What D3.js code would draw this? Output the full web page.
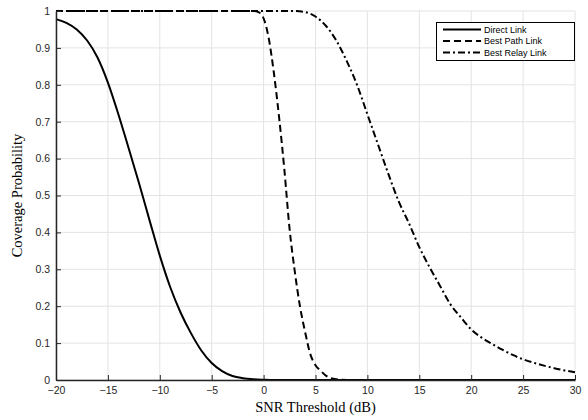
<!DOCTYPE html>
<html>
<head>
<meta charset="utf-8">
<script src="https://cdn.jsdelivr.net/npm/d3@7"></script>
<style>
  html, body { margin: 0; padding: 0; background: #fff; }
  svg { display: block; }
</style>
</head>
<body>
<svg id="chart" width="588" height="420"></svg>
<script>
// ---- data ----
const xTicks = [-20, -15, -10, -5, 0, 5, 10, 15, 20, 25, 30];
const yTicks = [0, 0.1, 0.2, 0.3, 0.4, 0.5, 0.6, 0.7, 0.8, 0.9, 1];
const yTickLabels = ["0", "0.1", "0.2", "0.3", "0.4", "0.5", "0.6", "0.7", "0.8", "0.9", "1"];

const directX = [-20, -19, -18, -17, -16, -15, -14, -13, -12, -11, -10, -9, -8, -7, -6, -5, -4, -3, -2, -1, 0, 1, 5, 30];
const directY = [0.978, 0.968, 0.950, 0.920, 0.874, 0.806, 0.721, 0.628, 0.533, 0.434, 0.337, 0.252, 0.183, 0.127, 0.080, 0.046, 0.024, 0.011, 0.005, 0.002, 0.0007, 0, 0, 0];

const pathX = [-20, -1, -0.5, 0, 0.5, 1, 1.5, 2, 2.5, 3, 3.5, 4, 4.5, 5, 5.5, 6, 6.5, 7, 8, 30];
const pathY = [1, 1, 0.997, 0.98, 0.925, 0.83, 0.71, 0.57, 0.41, 0.295, 0.2, 0.13, 0.07, 0.04, 0.025, 0.012, 0.005, 0.002, 0, 0];

const relayX = [-20, 3, 4, 5, 6, 7, 8, 9, 10, 11, 12, 13, 14, 15, 16, 17, 18, 19, 20, 21, 22, 23, 24, 25, 26, 27, 28, 29, 30];
const relayY = [1, 1, 0.997, 0.985, 0.96, 0.92, 0.865, 0.80, 0.72, 0.64, 0.56, 0.485, 0.425, 0.36, 0.305, 0.255, 0.205, 0.17, 0.137, 0.115, 0.098, 0.082, 0.068, 0.056, 0.047, 0.039, 0.032, 0.026, 0.021];

const seriesNames = ["Direct Link", "Best Path Link", "Best Relay Link"];
const seriesDash = ["none", "7,4", "7,3,2,3"];

// ---- layout ----
const svg = d3.select("#chart");
const L = 56, R = 575, T = 11, B = 380;
const x = d3.scaleLinear().domain([-20, 30]).range([L, R]);
const y = d3.scaleLinear().domain([0, 1]).range([B, T]);
const axisColor = "#262626";
const tickFont = "Liberation Sans, Arial, Helvetica, sans-serif";

// grid
const grid = svg.append("g");
grid.selectAll("line.vx").data(xTicks).enter().append("line")
  .attr("x1", d => x(d)).attr("x2", d => x(d))
  .attr("y1", T).attr("y2", B)
  .attr("stroke", "#e3e3e3").attr("stroke-width", 1);
grid.selectAll("line.hy").data(yTicks).enter().append("line")
  .attr("x1", L).attr("x2", R)
  .attr("y1", d => y(d)).attr("y2", d => y(d))
  .attr("stroke", "#e3e3e3").attr("stroke-width", 1);

// curves
const series = [
  directX.map((v, i) => [v, directY[i]]),
  pathX.map((v, i) => [v, pathY[i]]),
  relayX.map((v, i) => [v, relayY[i]])
];
const line = d3.line().x(d => x(d[0])).y(d => y(d[1])).curve(d3.curveMonotoneX);
const drawOrder = [2, 1, 0];
drawOrder.forEach(i => {
  svg.append("path")
    .datum(series[i])
    .attr("d", line)
    .attr("fill", "none")
    .attr("stroke", "#000")
    .attr("stroke-width", 2)
    .attr("stroke-dasharray", seriesDash[i]);
});

// axes
const xAxis = d3.axisBottom(x).tickValues(xTicks).tickSizeInner(-5).tickSizeOuter(0).tickPadding(7);
const yAxis = d3.axisLeft(y).tickValues(yTicks).tickFormat((d, i) => yTickLabels[i]).tickSizeInner(-5).tickSizeOuter(0).tickPadding(6);

const gx = svg.append("g").attr("transform", `translate(0,${B})`).call(xAxis);
const gy = svg.append("g").attr("transform", `translate(${L},0)`).call(yAxis);
[gx, gy].forEach(g => {
  g.select(".domain").attr("stroke", axisColor).attr("stroke-width", 1.5);
  g.selectAll(".tick line").attr("stroke", axisColor).attr("stroke-width", 1);
  g.selectAll(".tick text").attr("fill", axisColor)
    .style("font-family", tickFont).style("font-size", "10.5px");
});
gx.selectAll(".tick text").attr("dy", "0.71em");

// axis titles
svg.append("text")
  .attr("x", (L + R) / 2).attr("y", 412)
  .attr("text-anchor", "middle")
  .style("font-family", "Liberation Serif, Times New Roman, serif")
  .style("font-size", "14.5px")
  .attr("fill", "#000")
  .text("SNR Threshold (dB)");
svg.append("text")
  .attr("transform", `translate(22,${(T + B) / 2}) rotate(-90)`)
  .attr("text-anchor", "middle")
  .style("font-family", "Liberation Serif, Times New Roman, serif")
  .style("font-size", "14.5px")
  .attr("fill", "#000")
  .text("Coverage Probability");

// legend
const lg = svg.append("g");
lg.append("rect").attr("x", 436.5).attr("y", 22.5).attr("width", 138).attr("height", 38)
  .attr("fill", "#fff").attr("stroke", "#000").attr("stroke-width", 1);
seriesNames.forEach((name, i) => {
  const yy = 29.5 + i * 11.5;
  lg.append("line").attr("x1", 443).attr("x2", 481).attr("y1", yy).attr("y2", yy)
    .attr("stroke", "#000").attr("stroke-width", 2).attr("stroke-dasharray", seriesDash[i]);
  lg.append("text").attr("x", 484).attr("y", yy).attr("dy", "0.35em")
    .style("font-family", tickFont).style("font-size", "9px").attr("fill", "#000")
    .text(name);
});
</script>
</body>
</html>
